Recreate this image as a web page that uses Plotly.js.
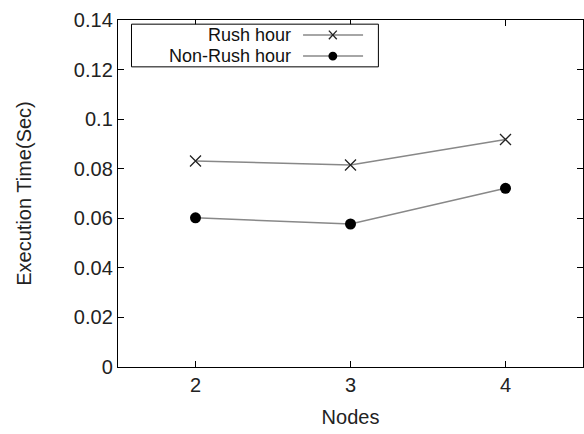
<!DOCTYPE html>
<html><head><meta charset="utf-8">
<script src="https://cdn.plot.ly/plotly-3.0.1.min.js"></script>
<style>body{margin:0;background:#fff}#c{width:584px;height:434px}</style>
</head><body><div id="c"></div>
<script>
const nodes = [2, 3, 4];
const rushHour = [0.0831, 0.0815, 0.0918];
const nonRushHour = [0.0602, 0.0577, 0.0721];
const seriesNames = ['Rush hour', 'Non-Rush hour'];
const yTicks = [0, 0.02, 0.04, 0.06, 0.08, 0.1, 0.12, 0.14];

const font = 'Liberation Sans, Arial, sans-serif';
const traces = [
  {x: nodes, y: rushHour, name: seriesNames[0], mode: 'lines+markers',
   line: {color: '#888', width: 1.5},
   marker: {symbol: 'x-thin', size: 11, color: '#222', line: {color: '#222', width: 1.3}}},
  {x: nodes, y: nonRushHour, name: seriesNames[1], mode: 'lines+markers',
   line: {color: '#888', width: 1.5},
   marker: {symbol: 'circle', size: 11, color: '#000'}}
];

// custom legend (text right-aligned, sample on the right)
const lx0 = 0.029, lx1 = 0.56;
const rows = [0.957, 0.896];
const shapes = [
  {type: 'rect', xref: 'paper', yref: 'paper', x0: lx0, x1: lx1, y0: 0.865, y1: 0.988,
   line: {color: '#000', width: 1}, fillcolor: '#fff'}
];
const annotations = [];
const sx0 = 0.398, sx1 = 0.527, sm = 0.462;
seriesNames.forEach((n, i) => {
  annotations.push({xref: 'paper', yref: 'paper', x: 0.375, y: rows[i], text: n,
    showarrow: false, xanchor: 'right', yanchor: 'middle', borderpad: 0,
    font: {family: font, size: 18, color: '#111'}});
  shapes.push({type: 'line', xref: 'paper', yref: 'paper', x0: sx0, x1: sx1, y0: rows[i], y1: rows[i],
    line: {color: '#888', width: 1.5}});
});
const dx = 0.0085, dy = 0.0125;
shapes.push({type: 'line', xref: 'paper', yref: 'paper', x0: sm - dx, x1: sm + dx, y0: rows[0] - dy, y1: rows[0] + dy, line: {color: '#222', width: 1.3}});
shapes.push({type: 'line', xref: 'paper', yref: 'paper', x0: sm - dx, x1: sm + dx, y0: rows[0] + dy, y1: rows[0] - dy, line: {color: '#222', width: 1.3}});
shapes.push({type: 'circle', xref: 'paper', yref: 'paper', x0: sm - 0.0095, x1: sm + 0.0095, y0: rows[1] - 0.0128, y1: rows[1] + 0.0128, line: {color: '#000', width: 0}, fillcolor: '#000'});

const layout = {
  width: 584, height: 434,
  margin: {l: 118, r: 1, t: 20, b: 67},
  paper_bgcolor: '#fff', plot_bgcolor: '#fff',
  showlegend: false,
  font: {family: font, color: '#222', size: 20},
  xaxis: {range: [1.5, 4.5], tickvals: nodes, ticks: 'inside', ticklen: 6, tickcolor: '#000',
    showline: true, linecolor: '#000', linewidth: 1.2, mirror: 'ticks', showgrid: false, zeroline: false,
    title: {text: 'Nodes', font: {size: 20}, standoff: 14}, tickfont: {size: 20}},
  yaxis: {range: [0, 0.14], tickvals: yTicks, ticktext: yTicks.map(String), ticks: 'inside', ticklen: 6, tickcolor: '#000',
    showline: true, linecolor: '#000', linewidth: 1.2, mirror: 'ticks', showgrid: false, zeroline: false,
    title: {text: 'Execution Time(Sec)', font: {size: 20}, standoff: 36}, tickfont: {size: 20}},
  shapes: shapes,
  annotations: annotations
};
Plotly.newPlot('c', traces, layout, {displayModeBar: false, staticPlot: true});
</script>
</body></html>
